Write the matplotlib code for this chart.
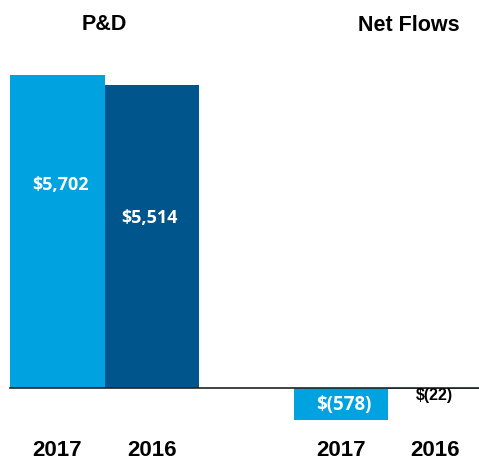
import matplotlib.pyplot as plt

plt.rcParams['font.family'] = ['Liberation Sans', 'DejaVu Sans']

# P&D and net flows, in $ millions
years = ['2017', '2016', '2017', '2016']
positions = [0, 1, 3, 4]
values = [5702, 5514, -578, -22]
labels = ['$5,702', '$5,514', '$(578)', '$(22)']
groupTitles = ['P&D', 'Net Flows']

light = '#00a3e0'
dark = '#00558c'
colors = [light, dark, light, dark]

fig = plt.figure(figsize=(4.79, 4.61), dpi=100)
ax = fig.add_axes([0, 0, 1, 1])

# one unit on x is ~94.5 px, one $ is ~0.0549 px
ax.set_xlim(-0.606, -0.606 + 479 / 94.5)
ax.set_ylim(-(461 - 388) / 0.0549, 388 / 0.0549)
ax.axis('off')

ax.bar(positions, values, width=1.0, color=colors, linewidth=0, zorder=2)
ax.plot([-0.5, 5], [0, 0], color='#222222', linewidth=1.2, zorder=3)

valueFont = ['Open Sans', 'DejaVu Sans']

# value labels
ax.text(positions[0] + 0.03, 3690, labels[0], color='white', ha='center', va='center',
        fontsize=13, fontweight='bold', family=valueFont)
ax.text(positions[1] - 0.02, 3090, labels[1], color='white', ha='center', va='center',
        fontsize=13, fontweight='bold', family=valueFont)
ax.text(positions[2] + 0.03, -310, labels[2], color='white', ha='center', va='center',
        fontsize=13.5, fontweight='bold', family=valueFont)
ax.text(positions[3] - 0.01, -130, labels[3], color='black', ha='center', va='center',
        fontsize=11.5, fontweight='bold')

# year labels under the bars
for x, yr in zip(positions, years):
    ax.text(x, -1130, yr, ha='center', va='center', fontsize=16, fontweight='bold', color='black')

# group titles
ax.text(0.5, 6630, groupTitles[0], ha='center', va='center', fontsize=15.5, fontweight='bold', color='black')
ax.text(3.72, 6610, groupTitles[1], ha='center', va='center', fontsize=15.5, fontweight='bold', color='black')

fig.savefig('out.png', dpi=100)
